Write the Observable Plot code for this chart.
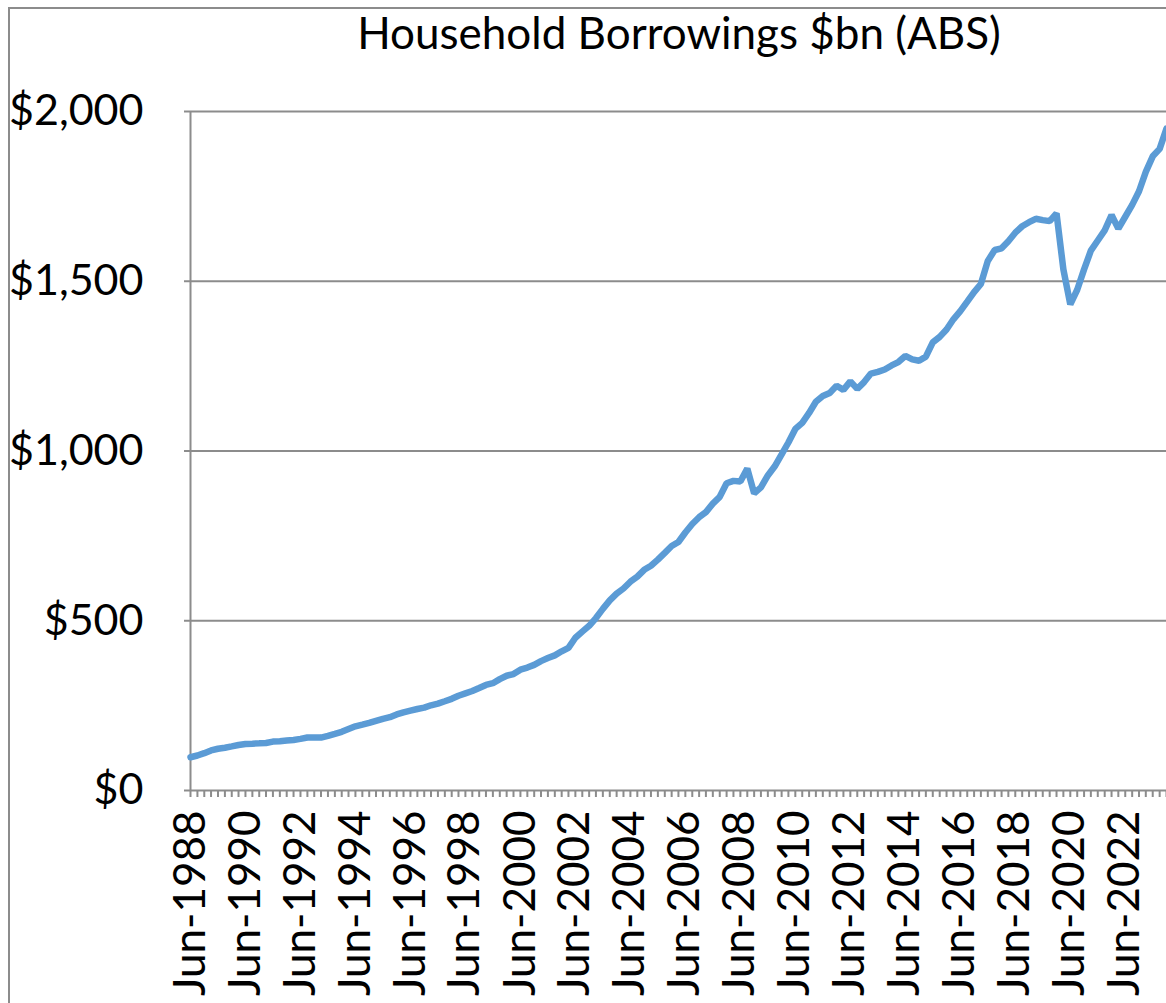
<!DOCTYPE html>
<html>
<head>
<meta charset="utf-8">
<script src="https://cdn.jsdelivr.net/npm/d3@7"></script>
<script src="https://cdn.jsdelivr.net/npm/@observablehq/plot@0.6"></script>
<style>
  html, body { margin: 0; padding: 0; background: #fff; overflow: hidden; }
  #wrap { position: relative; width: 1166px; height: 1003px; overflow: hidden; background: #fff; }
  #frame { position: absolute; left: 8px; top: 7px; width: 3000px; height: 3000px;
           border-left: 2px solid #8c8c8c; border-top: 2px solid #8c8c8c; box-sizing: border-box; }
  #title { position: absolute; left: 179px; width: 1000px; top: 10px; text-align: center;
           font-family: Lato, sans-serif; font-size: 44px; line-height: 44px; color: #000; }
  #chart { position: absolute; left: 0; top: 70px; }
</style>
</head>
<body>
<div id="wrap">
  <div id="frame"></div>
  <div id="title">Household Borrowings $bn (ABS)</div>
  <div id="chart"></div>
</div>
<script>
// Quarterly series, first quarter = Jun-1988
const firstQuarter = "1988-06-01";
const borrowings = [
  98, 103, 110, 118, 123, 126, 130, 134, 137, 138,
  139, 140, 144, 145, 147, 149, 152, 156, 156, 156,
  161, 167, 173, 181, 189, 194, 199, 205, 211, 216,
  224, 230, 235, 240, 244, 251, 256, 263, 270, 279,
  286, 293, 302, 311, 316, 328, 338, 343, 356, 362,
  370, 381, 390, 398, 410, 420, 450, 468, 485, 508,
  535, 560, 580, 595, 615, 630, 650, 662, 680, 700,
  720, 732, 760, 785, 805, 820, 845, 865, 905, 912,
  910, 948, 875, 893, 928, 955, 990, 1025, 1065, 1083,
  1112, 1145, 1162, 1171, 1192, 1180, 1205, 1183, 1203, 1228,
  1233, 1240, 1252, 1262, 1280, 1270, 1266, 1278, 1320, 1336,
  1358, 1388, 1412, 1440, 1468, 1492, 1560, 1592, 1597, 1618,
  1643, 1662, 1674, 1684, 1680, 1677, 1700, 1535, 1432, 1475,
  1535, 1590, 1620, 1650, 1695, 1655, 1690, 1725, 1765, 1822,
  1868, 1890, 1950
];
const yTicks = [0, 500, 1000, 1500, 2000];
const xLabelYears = [1988, 1990, 1992, 1994, 1996, 1998, 2000, 2002, 2004, 2006,
                     2008, 2010, 2012, 2014, 2016, 2018, 2020, 2022];

const start = new Date(firstQuarter + "T00:00:00Z");
const data = borrowings.map((v, i) => ({date: d3.utcMonth.offset(start, 3 * i), value: v}));
const quarterTicks = data.map(d => d.date);
const labelTicks = xLabelYears.map(y => new Date(Date.UTC(y, 5, 1)));
const gray = "#8c8c8c";

const chart = Plot.plot({
  width: 1166,
  height: 933,
  marginLeft: 190,
  marginRight: 0,
  marginTop: 41,
  marginBottom: 213,
  style: {fontFamily: "Lato, sans-serif", background: "transparent", color: "#000", overflow: "visible"},
  x: {type: "utc", domain: [quarterTicks[0], quarterTicks[quarterTicks.length - 1]], axis: null},
  y: {domain: [0, 2000], axis: null},
  marks: [
    Plot.ruleY(yTicks.filter(d => d > 0), {stroke: gray, strokeWidth: 2}),
    Plot.ruleY([0], {stroke: gray, strokeWidth: 2}),
    Plot.ruleX([quarterTicks[0]], {y1: 0, y2: 2000, stroke: gray, strokeWidth: 2}),
    Plot.axisY({ticks: yTicks, tickSize: 6, tickPadding: 41, stroke: gray, strokeWidth: 2, label: null,
                fill: "#000", fontSize: 43, tickFormat: d => "$" + d3.format(",")(d)}),
    Plot.axisX({ticks: quarterTicks, tickSize: 7, stroke: gray, strokeWidth: 2, label: null, tickFormat: () => ""}),
    Plot.axisX({ticks: labelTicks, tickSize: 0, tickPadding: 20, tickRotate: -90, label: null,
                fill: "#000", fontSize: 44, tickFormat: d3.utcFormat("%b-%Y")}),
    Plot.line(data, {x: "date", y: "value", stroke: "#5B9BD5", strokeWidth: 6.5, strokeLinejoin: "miter"})
  ]
});
document.getElementById("chart").appendChild(chart);
</script>
</body>
</html>
